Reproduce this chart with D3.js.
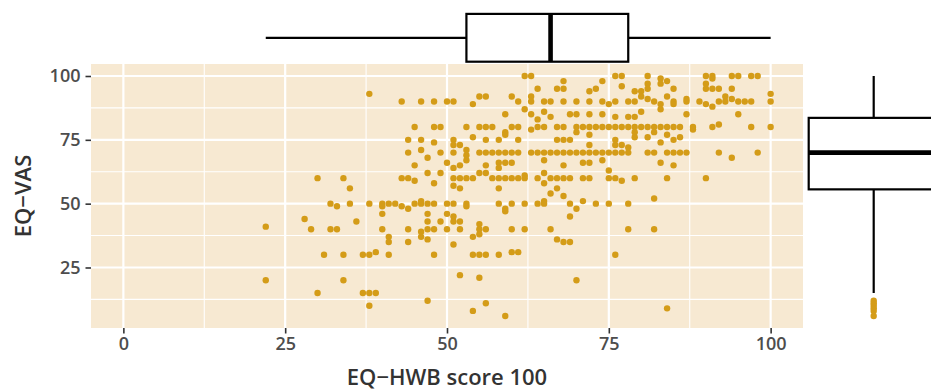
<!DOCTYPE html>
<html>
<head>
<meta charset="utf-8">
<script src="https://cdn.jsdelivr.net/npm/d3@7"></script>
<style>
  body { margin: 0; background: #fff; }
  svg text { font-family: "Open Sans", sans-serif; }
</style>
</head>
<body>
<div id="chart"></div>
<script>
// [EQ-HWB score 100, EQ-VAS] per respondent
const observations = [
  [38,93],[30,60],[34,60],[35,56],
  [32,50],[33,49],[35,50],[38,50],[40,50],[40,49],[41,50],
  [28,44],[36,43],[40,46],[22,41],[29,40],[32,40],[33,40],[40,40],
  [41,37],[41,35],[31,30],[34,30],[37,30],[38,30],[39,31],[41,30],
  [22,20],[34,20],[30,15],[37,15],[38,15],[39,15],[38,10],
  [43,90],[46,90],[48,90],[50,90],[51,90],[54,89],[55,92],[56,92],[60,92],[59,85],
  [45,80],[48,80],[49,80],[53,80],[55,80],[56,80],[57,80],[59,78],[60,80],[61,80],
  [44,75],[46,75],[48,74],[51,75],[54,76],[56,75],[58,75],[59,77],[61,75],[51,73],[52,73],
  [44,70],[46,71],[47,68],[49,70],[51,70],[53,71],[53,69],[55,70],[56,70],[57,70],[58,70],[59,70],[60,70],[61,70],
  [45,65],[50,66],[51,64],[52,65],[53,67],[56,65],[58,66],[58,64],[59,66],[60,66],
  [43,60],[44,60],[45,59],[47,62],[48,58],[49,62],[51,60],[52,60],[53,60],[54,60],[51,57],[52,56],
  [55,62],[56,62],[57,60],[58,60],[59,60],[60,60],[58,56],
  [42,50],[43,49],[44,48],[45,50],[46,50],[46,51],[47,50],[48,50],[50,50],[51,50],[53,50],[53,49],
  [58,50],[59,48],[59,47],[60,50],[47,46],[50,46],[51,45],[47,43],[49,43],[51,43],[52,43],
  [55,42],[55,40],[55,38],[44,40],[46,39],[47,40],[48,40],[50,40],[52,40],[56,40],[60,40],
  [46,37],[47,36],[54,37],[44,35],[51,34],
  [48,30],[54,30],[55,30],[56,30],[58,30],[60,31],[61,31],
  [52,22],[55,21],[47,12],[56,11],[54,8],[59,6],
  [62,100],[63,100],[68,98],[74,98],[76,100],[77,100],[77,96],
  [64,95],[67,95],[68,95],[72,94],[73,95],[79,94],[80,94],
  [61,90],[63,92],[63,90],[65,90],[66,90],[68,90],[70,90],[72,90],[74,90],[75,89],[76,90],[78,90],[79,90],[80,92],
  [62,87],[63,85],[64,83],[65,86],[66,84],[69,85],[70,85],[72,85],[74,85],[76,84],[78,84],[79,84],[80,86],
  [63,79],[64,80],[65,80],[67,80],[68,80],[70,80],[70,78],[71,80],[72,80],[72,77],[73,80],[74,80],
  [75,80],[76,80],[77,80],[78,80],[79,80],[80,80],[79,78],[79,76],
  [67,75],[68,75],[69,75],[76,75],[76,73],[77,73],
  [63,70],[64,70],[65,70],[66,70],[67,70],[68,70],[69,70],[70,70],[71,70],[72,70],[73,70],[74,70],
  [75,70],[76,70],[77,70],[78,70],[65,67],[72,73],[78,72],
  [68,65],[71,66],[72,66],[74,67],
  [62,61],[62,60],[64,60],[65,62],[66,60],[67,60],[68,60],[69,60],[71,60],[72,60],[75,63],[75,60],
  [76,60],[77,59],[79,60],[61,60],[65,58],[67,56],[66,54],[68,53],[71,51],
  [62,50],[64,50],[65,51],[65,50],[69,50],[70,48],[73,50],[75,50],[78,50],[69,45],
  [62,40],[66,40],[78,40],[67,36],[68,35],[69,35],[76,30],[70,20],
  [81,100],[81,97],[81,95],[83,99],[83,97],[84,98],[85,95],[90,100],[91,100],[91,99],[90,97],
  [90,95],[91,95],[92,95],[94,100],[95,100],[94,95],[97,100],[98,100],[100,93],[100,90],
  [81,91],[82,90],[83,89],[83,87],[84,92],[85,90],[85,89],[87,91],[87,90],[87,85],[89,90],[90,89],
  [91,88],[92,90],[93,92],[93,90],[94,91],[95,90],[96,90],[97,90],[95,85],
  [81,80],[82,80],[83,80],[84,80],[85,80],[86,80],[82,78],[84,77],[88,80],[88,79],[91,80],[92,81],[97,80],[100,80],
  [81,76],[83,74],[85,75],[86,76],
  [81,70],[82,70],[84,70],[85,70],[86,70],[87,70],[92,70],[94,68],[98,70],
  [83,66],[85,65],[84,60],[90,60],[82,52],[82,40],[84,9]
];

// boxplot summaries: lower whisker, Q1, median, Q3, upper whisker
const hwbBox = [22, 53, 66, 78, 100];
const vasBox = [15, 55.6, 70, 83.6, 100];

const xLimits = [0, 100];
const xTicks = [0, 25, 50, 75, 100];
const yTicks = [25, 50, 75, 100];
const xTitle = "EQ\u2212HWB score 100";
const yTitle = "EQ\u2212VAS";

const width = 931, height = 390;
const panel = { left: 91, right: 803, top: 64, bottom: 328 };

const svg = d3.select("#chart").append("svg")
  .attr("width", width)
  .attr("height", height);

// ggplot style 5% expansion
const expand = (lo, hi) => { const p = (hi - lo) * 0.05; return [lo - p, hi + p]; };
const vasExtent = d3.extent(observations, d => d[1]);

const x = d3.scaleLinear().domain(expand(xLimits[0], xLimits[1])).range([panel.left, panel.right]);
const y = d3.scaleLinear().domain(expand(vasExtent[0], vasExtent[1])).range([panel.bottom, panel.top]);

const minorOf = ticks => d3.pairs(ticks).map(p => (p[0] + p[1]) / 2);
const xMinor = minorOf(xTicks);
const yMinor = [12.5].concat(minorOf(yTicks));

// panel
svg.append("rect")
  .attr("x", panel.left).attr("y", panel.top)
  .attr("width", panel.right - panel.left)
  .attr("height", panel.bottom - panel.top)
  .attr("fill", "#f7e9d2");

const grid = svg.append("g").attr("stroke", "#fff");
grid.selectAll(".xminor").data(xMinor).join("line")
  .attr("x1", d => x(d)).attr("x2", d => x(d))
  .attr("y1", panel.top).attr("y2", panel.bottom)
  .attr("stroke-width", 1.1);
grid.selectAll(".yminor").data(yMinor).join("line")
  .attr("y1", d => y(d)).attr("y2", d => y(d))
  .attr("x1", panel.left).attr("x2", panel.right)
  .attr("stroke-width", 1.1);
grid.selectAll(".xmajor").data(xTicks).join("line")
  .attr("x1", d => x(d)).attr("x2", d => x(d))
  .attr("y1", panel.top).attr("y2", panel.bottom)
  .attr("stroke-width", 2.2);
grid.selectAll(".ymajor").data(yTicks).join("line")
  .attr("y1", d => y(d)).attr("y2", d => y(d))
  .attr("x1", panel.left).attr("x2", panel.right)
  .attr("stroke-width", 2.2);

// points
const pointColor = "#d49c18";
svg.append("g")
  .selectAll("circle")
  .data(observations)
  .join("circle")
    .attr("cx", d => x(d[0]))
    .attr("cy", d => y(d[1]))
    .attr("r", 3.2)
    .attr("fill", pointColor);

// axes
const xAxis = svg.append("g")
  .attr("transform", `translate(0,${panel.bottom})`)
  .call(d3.axisBottom(x).tickValues(xTicks).tickSize(5.5).tickPadding(4));
const yAxis = svg.append("g")
  .attr("transform", `translate(${panel.left},0)`)
  .call(d3.axisLeft(y).tickValues(yTicks).tickSize(5.5).tickPadding(5));

[xAxis, yAxis].forEach(a => {
  a.select(".domain").remove();
  a.selectAll(".tick line").attr("stroke", "#333").attr("stroke-width", 1.6);
  a.selectAll(".tick text")
    .attr("fill", "#4d4d4d")
    .style("font-size", "18px")
    .style("font-weight", 600)
    .style("font-family", "'Open Sans', sans-serif");
});

svg.append("text")
  .attr("x", (panel.left + panel.right) / 2)
  .attr("y", 385)
  .attr("text-anchor", "middle")
  .attr("fill", "#333")
  .style("font-size", "22px")
  .style("font-weight", 600)
  .text(xTitle);

svg.append("text")
  .attr("transform", `translate(31,${(panel.top + panel.bottom) / 2}) rotate(-90)`)
  .attr("text-anchor", "middle")
  .attr("fill", "#333")
  .style("font-size", "22px")
  .style("font-weight", 600)
  .text(yTitle);

// marginal boxplots
const boxStroke = "#000";
const topBox = { center: 37.8, half: 23.9 };
const topG = svg.append("g").attr("fill", "none").attr("stroke", boxStroke);
topG.append("line")
  .attr("x1", x(hwbBox[0])).attr("x2", x(hwbBox[1]))
  .attr("y1", topBox.center).attr("y2", topBox.center)
  .attr("stroke-width", 2.2);
topG.append("line")
  .attr("x1", x(hwbBox[3])).attr("x2", x(hwbBox[4]))
  .attr("y1", topBox.center).attr("y2", topBox.center)
  .attr("stroke-width", 2.2);
topG.append("rect")
  .attr("x", x(hwbBox[1])).attr("width", x(hwbBox[3]) - x(hwbBox[1]))
  .attr("y", topBox.center - topBox.half).attr("height", topBox.half * 2)
  .attr("fill", "#fff").attr("stroke-width", 2.2);
topG.append("line")
  .attr("x1", x(hwbBox[2])).attr("x2", x(hwbBox[2]))
  .attr("y1", topBox.center - topBox.half).attr("y2", topBox.center + topBox.half)
  .attr("stroke-width", 4.6);

const sideBox = { center: 873.7, half: 65 };
const sideG = svg.append("g").attr("fill", "none").attr("stroke", boxStroke);
sideG.append("line")
  .attr("y1", y(vasBox[0])).attr("y2", y(vasBox[1]))
  .attr("x1", sideBox.center).attr("x2", sideBox.center)
  .attr("stroke-width", 2.2);
sideG.append("line")
  .attr("y1", y(vasBox[3])).attr("y2", y(vasBox[4]))
  .attr("x1", sideBox.center).attr("x2", sideBox.center)
  .attr("stroke-width", 2.2);
sideG.append("rect")
  .attr("y", y(vasBox[3])).attr("height", y(vasBox[1]) - y(vasBox[3]))
  .attr("x", sideBox.center - sideBox.half).attr("width", sideBox.half * 2)
  .attr("fill", "#fff").attr("stroke-width", 2.2);
sideG.append("line")
  .attr("y1", y(vasBox[2])).attr("y2", y(vasBox[2]))
  .attr("x1", sideBox.center - sideBox.half).attr("x2", sideBox.center + sideBox.half)
  .attr("stroke-width", 4.6);

// outliers below the lower whisker
svg.append("g")
  .selectAll("circle")
  .data(observations.filter(d => d[1] < vasBox[0]))
  .join("circle")
    .attr("cx", sideBox.center)
    .attr("cy", d => y(d[1]))
    .attr("r", 3.2)
    .attr("fill", pointColor);
</script>
</body>
</html>
